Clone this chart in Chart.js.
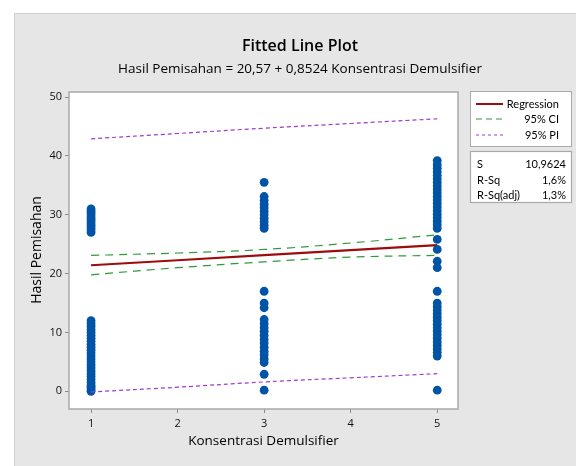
<!DOCTYPE html>
<html>
<head>
<meta charset="utf-8">
<script src="https://cdn.jsdelivr.net/npm/chart.js@4.4.1/dist/chart.umd.min.js"></script>
<style>
  html, body { margin: 0; padding: 0; background: #fff; }
  #wrap { width: 576px; height: 466px; }
</style>
</head>
<body>
<div id="wrap"><canvas id="fitChart" width="576" height="466"></canvas></div>
<script>
// --- DATA ---
const xTicks = [1, 2, 3, 4, 5];
const yTicks = [0, 10, 20, 30, 40, 50];

// observed Hasil Pemisahan at each Konsentrasi level
const obsAt1 = [0, 0.3, 0.7, 1, 1.5, 2, 2.5, 3, 3.5, 4, 4.5, 5, 5.5, 6, 6.5, 7, 7.5, 8, 8.5, 9, 9.5, 10, 10.5, 11, 11.5, 12,
                27, 27.4, 27.8, 28.2, 28.6, 29, 29.4, 29.8, 30.2, 30.6, 31];
const obsAt3 = [0.2, 2.9, 4.9, 5.5, 6.2, 6.8, 7.5, 8.2, 8.8, 9.5, 10.2, 10.8, 11.5, 12.2, 14.2, 15.0, 17.0,
                27.7, 28.2, 28.8, 29.4, 30, 30.6, 31.2, 31.8, 32.4, 33.1, 35.5];
const obsAt5 = [0.2, 6.0, 6.6, 7.2, 7.8, 8.4, 9, 9.6, 10.2, 10.8, 11.4, 12, 12.6, 13.2, 13.8, 14.4, 15.0, 17.0,
                21.0, 22.1, 24.1, 25.8, 27.7, 28.3, 28.9, 29.5, 30.1, 30.7, 31.3, 31.9, 32.5, 33.1, 33.7, 34.3,
                34.9, 35.5, 36.1, 36.7, 37.3, 37.9, 38.5, 39.2];

// fitted line and bands, at x = 1..5
const lineX = [1, 2, 3, 4, 5];
const fitY = [21.42, 22.27, 23.13, 23.98, 24.83];
const ciUpper = [23.1, 23.5, 24.1, 25.2, 26.6];
const ciLower = [19.8, 21.0, 22.0, 22.8, 23.1];
const piUpper = [42.9, 43.8, 44.7, 45.5, 46.3];
const piLower = [-0.1, 0.7, 1.6, 2.3, 3.0];

const statLabels = ['S', 'R-Sq', 'R-Sq(adj)'];
const statValues = ['10,9624', '1,6%', '1,3%'];

// --- STYLE ---
const FONT = '"Open Sans", "Noto Sans", sans-serif';
const SMALL_FONT = 'Lato, "Open Sans", sans-serif';
const DOT = '#0054a6';
const RED = '#9b0d0d';
const GREEN = '#2e9a3e';
const PURPLE = '#a03ad0';

function pts(xs, ys) { return xs.map((x, i) => ({ x: x, y: ys[i] })); }
function col(x, ys) { return ys.map(v => ({ x: x, y: v })); }

const allObs = col(1, obsAt1).concat(col(3, obsAt3), col(5, obsAt5));

// --- PANEL / TITLES / LEGEND plugin ---
const minitabFrame = {
  id: 'minitabFrame',
  beforeDraw(chart) {
    const c = chart.ctx, a = chart.chartArea;
    c.save();
    c.fillStyle = '#ffffff';
    c.fillRect(0, 0, 576, 466);
    c.fillStyle = '#e6e6e6';
    c.fillRect(14, 13, 562, 453);
    c.strokeStyle = '#cfcfcf';
    c.lineWidth = 1;
    c.beginPath();
    c.moveTo(14.5, 466); c.lineTo(14.5, 13.5); c.lineTo(576, 13.5);
    c.stroke();
    c.fillStyle = '#ffffff';
    c.fillRect(a.left, a.top, a.right - a.left, a.bottom - a.top);
    c.restore();
  },
  afterDraw(chart) {
    const c = chart.ctx, a = chart.chartArea;
    c.save();
    // plot frame
    c.strokeStyle = '#a9a9a9';
    c.lineWidth = 1.5;
    c.strokeRect(a.left, a.top, a.right - a.left, a.bottom - a.top);

    // titles
    c.fillStyle = '#000';
    c.textAlign = 'center';
    c.textBaseline = 'middle';
    c.font = '600 16px ' + FONT;
    c.fillText('Fitted Line Plot', 300, 46);
    c.font = '500 13.5px ' + FONT;
    c.fillText('Hasil Pemisahan = 20,57 + 0,8524 Konsentrasi Demulsifier', 300, 69);

    // axis titles
    c.font = '500 13.5px ' + FONT;
    c.fillText('Konsentrasi Demulsifier', (a.left + a.right) / 2, 441);
    c.save();
    c.translate(37, 250);
    c.rotate(-Math.PI / 2);
    c.font = '500 14px ' + FONT;
    c.fillText('Hasil Pemisahan', 0, 0);
    c.restore();

    // legend box
    c.fillStyle = '#ffffff';
    c.fillRect(470, 91, 102, 56);
    c.strokeStyle = '#a9a9a9';
    c.lineWidth = 1;
    c.strokeRect(470.5, 91.5, 101, 55);
    const legendRows = [
      { text: 'Regression', color: RED, dash: [], width: 2, y: 104 },
      { text: '95% CI', color: GREEN, dash: [6, 4], width: 1.2, y: 119 },
      { text: '95% PI', color: PURPLE, dash: [3, 3], width: 1.2, y: 135 }
    ];
    c.font = '11px ' + SMALL_FONT;
    c.textAlign = 'right';
    legendRows.forEach(r => {
      c.strokeStyle = r.color;
      c.lineWidth = r.width;
      c.setLineDash(r.dash);
      c.beginPath();
      c.moveTo(476, r.y); c.lineTo(503, r.y);
      c.stroke();
      c.setLineDash([]);
      c.fillStyle = '#000';
      c.fillText(r.text, 559, r.y);
    });

    // stats box
    c.fillStyle = '#ffffff';
    c.fillRect(470, 151, 102, 52);
    c.strokeStyle = '#a9a9a9';
    c.strokeRect(470.5, 151.5, 101, 51);
    c.fillStyle = '#000';
    const statY = [164, 180, 195];
    statLabels.forEach((lab, i) => {
      c.textAlign = 'left';
      c.fillText(lab, 477, statY[i]);
      c.textAlign = 'right';
      c.fillText(statValues[i], 566, statY[i]);
    });
    c.restore();
  }
};

// --- CHART ---
const ctx = document.getElementById('fitChart').getContext('2d');
const fitChart = new Chart(ctx, {
  type: 'scatter',
  data: {
    datasets: [
      { type: 'line', label: '95% PI upper', data: pts(lineX, piUpper), borderColor: PURPLE, borderWidth: 1.2, borderDash: [4, 3], pointRadius: 0, tension: 0.4, fill: false },
      { type: 'line', label: '95% PI lower', data: pts(lineX, piLower), borderColor: PURPLE, borderWidth: 1.2, borderDash: [4, 3], pointRadius: 0, tension: 0.4, fill: false },
      { label: 'Data', data: allObs, backgroundColor: DOT, borderColor: DOT, pointRadius: 4.4, borderWidth: 0 },
      { type: 'line', label: '95% CI upper', data: pts(lineX, ciUpper), borderColor: GREEN, borderWidth: 1.2, borderDash: [8, 6], pointRadius: 0, tension: 0.4, fill: false },
      { type: 'line', label: '95% CI lower', data: pts(lineX, ciLower), borderColor: GREEN, borderWidth: 1.2, borderDash: [8, 6], pointRadius: 0, tension: 0.4, fill: false },
      { type: 'line', label: 'Regression', data: pts(lineX, fitY), borderColor: RED, borderWidth: 2.2, pointRadius: 0, tension: 0, fill: false }
    ]
  },
  options: {
    responsive: false,
    animation: false,
    layout: { padding: { left: 0, top: 92, right: 118, bottom: 0 } },
    plugins: { legend: { display: false }, tooltip: { enabled: false }, title: { display: false } },
    scales: {
      x: {
        type: 'linear',
        min: 0.745, max: 5.24,
        afterFit(s) { s.height = 57; },
        afterBuildTicks(s) { s.ticks = xTicks.map(v => ({ value: v })); },
        grid: { drawOnChartArea: false, drawTicks: true, tickLength: 4, color: '#8a8a8a' },
        border: { display: false },
        ticks: { color: '#111', font: { family: FONT, size: 11, weight: '500' }, padding: 4 }
      },
      y: {
        type: 'linear',
        min: -3, max: 50.85,
        afterFit(s) { s.width = 69; },
        afterBuildTicks(s) { s.ticks = yTicks.map(v => ({ value: v })); },
        grid: { drawOnChartArea: false, drawTicks: true, tickLength: 4, color: '#8a8a8a' },
        border: { display: false },
        ticks: { color: '#111', font: { family: FONT, size: 11, weight: '500' }, padding: 3 }
      }
    }
  },
  plugins: [minitabFrame]
});
</script>
</body>
</html>
